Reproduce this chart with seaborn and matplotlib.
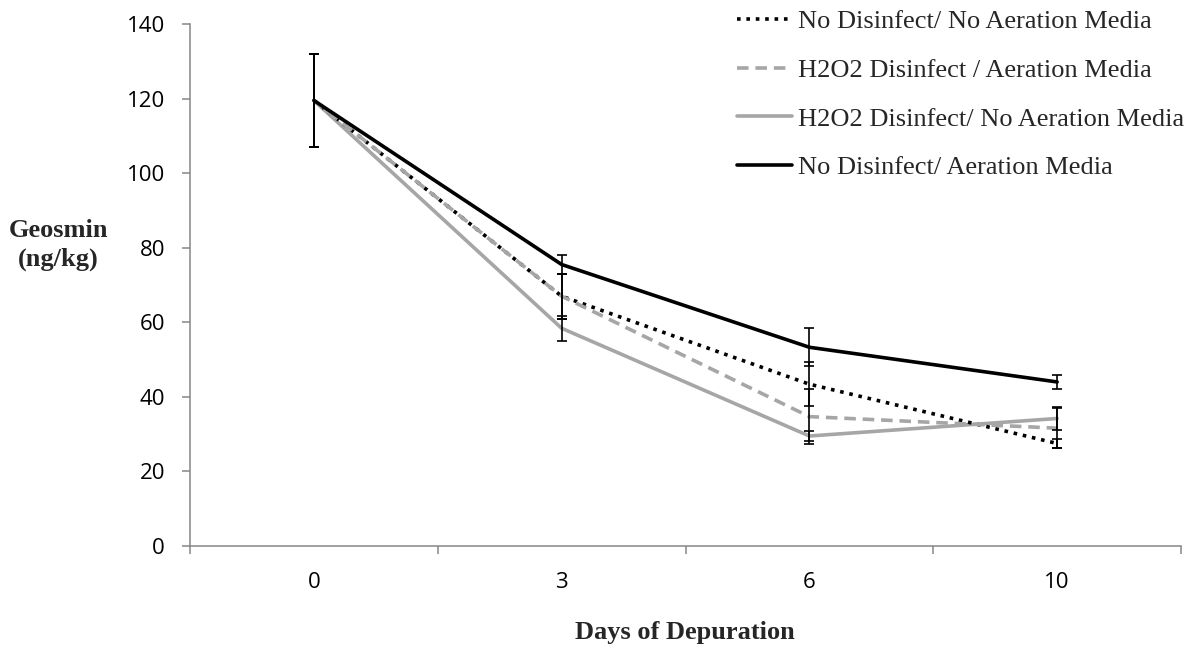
import matplotlib
matplotlib.use("Agg")
import matplotlib.pyplot as plt
import seaborn as sns
import pandas as pd
from matplotlib.lines import Line2D

days = ["0", "3", "6", "10"]
series = [
    "No Disinfect/ No Aeration Media",
    "H2O2 Disinfect / Aeration Media",
    "H2O2 Disinfect/ No Aeration Media",
    "No Disinfect/ Aeration Media",
]
no_dis_no_aer = [119.5, 67.0, 43.4, 27.5]
h2o2_aer = [119.5, 67.0, 34.7, 31.6]
h2o2_no_aer = [119.5, 58.4, 29.5, 34.2]
no_dis_aer = [119.5, 75.5, 53.3, 44.0]

err_no_dis_no_aer = [12.5, 6.0, 5.9, 1.3]
err_h2o2_aer = [12.5, 6.0, 7.4, 5.4]
err_h2o2_no_aer = [12.5, 3.4, 1.4, 3.2]
err_no_dis_aer = [12.5, 2.5, 5.1, 1.8]

values = [no_dis_no_aer, h2o2_aer, h2o2_no_aer, no_dis_aer]
errors = [err_no_dis_no_aer, err_h2o2_aer, err_h2o2_no_aer, err_no_dis_aer]

rows = []
for s, vals in zip(series, values):
    for i, (d, v) in enumerate(zip(days, vals)):
        rows.append({"pos": i, "day": d, "series": s, "value": v})
df = pd.DataFrame(rows)

sns.set_theme(style="white")
plt.rcParams["font.family"] = ["Open Sans", "DejaVu Sans"]

fig = plt.figure(figsize=(12.01, 6.49), dpi=100)
ax = fig.add_axes([190 / 1201, 1 - 546 / 649, (1181 - 190) / 1201, (546 - 24) / 649])

colors = {series[0]: "black", series[1]: "#a6a6a6", series[2]: "#a6a6a6", series[3]: "black"}
styles = {series[0]: (0, (1, 1.6)), series[1]: (0, (3.2, 1.9)), series[2]: "-", series[3]: "-"}
zorders = {series[0]: 3, series[1]: 4, series[2]: 2, series[3]: 5}

for s in series:
    sub = df[df["series"] == s]
    sns.lineplot(data=sub, x="pos", y="value", ax=ax, color=colors[s],
                 linewidth=2.6, linestyle=styles[s], zorder=zorders[s],
                 legend=False, sort=True)

for s, vals, errs in zip(series, values, errors):
    ax.errorbar(range(len(days)), vals, yerr=errs, fmt="none", ecolor="black",
                elinewidth=1.2, capsize=3.5, capthick=1.2, zorder=6)

ax.set_xlim(-0.5, len(days) - 0.5)
ax.set_ylim(0, 140)
ax.set_yticks(range(0, 141, 20))
ax.set_xticks([i - 0.5 for i in range(len(days) + 1)])
ax.set_xticklabels([])
ax.set_xticks(range(len(days)), minor=True)
ax.set_xticklabels(days, minor=True)
ax.tick_params(axis="x", which="major", direction="out", length=6, width=1.1, color="#868686", bottom=True)
ax.tick_params(axis="x", which="minor", length=0, pad=19, labelsize=16, labelcolor="black", bottom=True)
ax.tick_params(axis="y", direction="out", length=6, width=1.1, color="#868686", pad=12,
               labelsize=16, labelcolor="black", left=True)
ax.set_xlabel("")
ax.set_ylabel("")
for sp in ["top", "right"]:
    ax.spines[sp].set_visible(False)
for sp in ["left", "bottom"]:
    ax.spines[sp].set_color("#868686")
    ax.spines[sp].set_linewidth(1.1)

fig.text(58 / 1201, 1 - 245 / 649, "Geosmin\n(ng/kg)", ha="center", va="center",
         family="Liberation Serif", fontweight="bold", fontsize=19, linespacing=1.3)
fig.text(685 / 1201, 1 - 633 / 649, "Days of Depuration", ha="center", va="center",
         family="Liberation Serif", fontweight="bold", fontsize=19)

handles = [Line2D([], [], color=colors[s], linestyle=styles[s], linewidth=2.6) for s in series]
ax.legend(handles, series, loc="upper left", bbox_to_anchor=(737 / 1201, 1 - 10 / 649),
          bbox_transform=fig.transFigure, frameon=False, borderpad=0, borderaxespad=0,
          handlelength=2.1, handletextpad=0.2, labelspacing=0.95,
          prop={"family": "Liberation Serif", "size": 19})

fig.savefig("out.png", dpi=100)
